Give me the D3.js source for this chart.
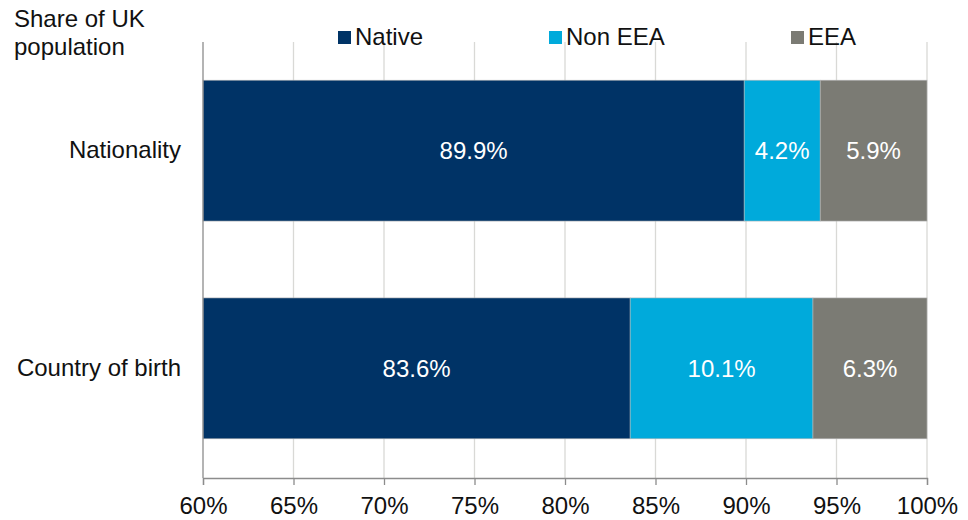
<!DOCTYPE html>
<html><head><meta charset="utf-8">
<script src="https://cdn.jsdelivr.net/npm/d3@7"></script>
<style>body{margin:0;background:#fff}svg{font-family:"Liberation Sans",Arial,sans-serif}</style>
</head><body><svg id="c" width="968" height="520"></svg>
<script>
const categories = ["Nationality", "Country of birth"];
const seriesNames = ["Native", "Non EEA", "EEA"];
const native = [89.9, 83.6];
const nonEEA = [4.2, 10.1];
const eea = [5.9, 6.3];
const tickValues = [60, 65, 70, 75, 80, 85, 90, 95, 100];
const colors = ["#003366", "#00aadb", "#7b7b74"];

(function () {
const svg = d3.select("#c");
const FS = 24;
const pl = 203, pr = 927, pt = 42, pb = 478;
const x = d3.scaleLinear().domain([60, 100]).range([pl, pr]);
const y = d3.scaleBand().domain(categories).range([41, 478]).paddingInner(0.353).paddingOuter(0.18);

// gridlines
svg.append("g").selectAll("line").data(tickValues.slice(1)).join("line")
  .attr("x1", d => x(d)).attr("x2", d => x(d)).attr("y1", pt).attr("y2", pb)
  .attr("stroke", "#d9d9d6").attr("stroke-width", 1.3);

const rows = categories.map((c, i) => ({cat: c, vals: [native[i], nonEEA[i], eea[i]]}));
const segs = [];
rows.forEach(r => {
  let acc = 0;
  r.vals.forEach((v, k) => { segs.push({cat: r.cat, k, v, x0: acc, x1: acc + v}); acc += v; });
});
const clip = v => Math.max(60, Math.min(100, v));
svg.append("g").selectAll("rect").data(segs).join("rect")
  .attr("x", d => x(clip(d.x0))).attr("width", d => x(clip(d.x1)) - x(clip(d.x0)))
  .attr("y", d => y(d.cat)).attr("height", y.bandwidth())
  .attr("fill", d => colors[d.k]).attr("stroke", "#b8b8b8").attr("stroke-width", 0.6);
svg.append("g").selectAll("text").data(segs).join("text")
  .attr("x", d => (x(clip(d.x0)) + x(clip(d.x1))) / 2)
  .attr("y", d => y(d.cat) + y.bandwidth() / 2 + 8.5)
  .attr("text-anchor", "middle").attr("fill", "#fff").attr("font-size", FS)
  .text(d => d.v.toFixed(1) + "%");

// x axis
const xa = svg.append("g").attr("transform", `translate(0,${pb})`)
  .call(d3.axisBottom(x).tickValues(tickValues).tickFormat(d => d + "%").tickSize(7).tickPadding(12));
xa.select(".domain").attr("stroke", "#8c8c8c").attr("stroke-width", 1.3);
xa.selectAll(".tick line").attr("stroke", "#8c8c8c").attr("stroke-width", 1.3);
xa.selectAll(".tick text").attr("font-size", FS).attr("fill", "#111").attr("font-family", "Liberation Sans, Arial, sans-serif");

// y axis
const ya = svg.append("g").attr("transform", `translate(${pl},0)`)
  .call(d3.axisLeft(y).tickSize(0).tickPadding(22));
ya.select(".domain").attr("d", `M0,${pt}V${pb}`).attr("stroke", "#8c8c8c").attr("stroke-width", 1.3);
ya.selectAll(".tick text").attr("font-size", FS).attr("fill", "#111").attr("font-family", "Liberation Sans, Arial, sans-serif");

// title
svg.append("text").attr("x", 14).attr("y", 27).attr("font-size", FS).attr("fill", "#111").text("Share of UK");
svg.append("text").attr("x", 14).attr("y", 55).attr("font-size", FS).attr("fill", "#111").text("population");

// legend
const legX = [338, 549, 791];
const lg = svg.append("g").selectAll("g").data(seriesNames).join("g")
  .attr("transform", (d, i) => `translate(${legX[i]},0)`);
lg.append("rect").attr("x", 0).attr("y", 31).attr("width", 13).attr("height", 13).attr("fill", (d, i) => colors[i]);
lg.append("text").attr("x", 17).attr("y", 45).attr("font-size", FS).attr("fill", "#111").text(d => d);
})();
</script></body></html>
